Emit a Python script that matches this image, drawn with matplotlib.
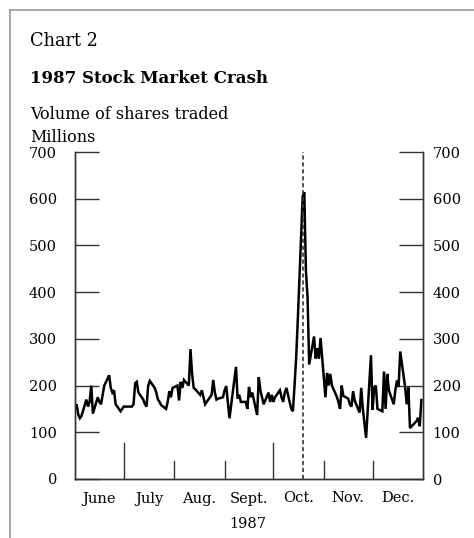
import pandas as pd
import matplotlib
matplotlib.use('Agg')
import matplotlib.pyplot as plt
from matplotlib.lines import Line2D

plt.rcParams['font.family'] = 'DejaVu Serif'
plt.rcParams['lines.scale_dashes'] = False

# daily NYSE volume, millions of shares (one value per trading day)
vol_jun = [150, 160, 138, 130, 135, 170, 155, 165, 200, 140, 175, 165, 160, 180, 200, 222, 195, 185, 190, 160, 145, 150]
vol_jul = [155, 155, 155, 160, 205, 208, 185, 170, 160, 155, 200, 210, 195, 185, 170, 165, 158, 150, 165, 188, 175, 195]
vol_aug = [200, 168, 208, 195, 212, 200, 278, 225, 195, 192, 180, 190, 175, 160, 165, 180, 212, 185, 170, 172, 175]
vol_sep = [190, 199, 165, 130, 240, 172, 180, 165, 165, 150, 197, 175, 185, 137, 218, 190, 175, 160, 185, 165, 180]
vol_oct = [165, 175, 190, 175, 165, 185, 195, 150, 145, 200, 260, 340, 604, 614, 445, 390, 245, 305, 258, 280, 258, 302]
vol_nov = [175, 227, 200, 225, 200, 176, 165, 150, 200, 178, 172, 160, 155, 188, 168, 142, 195, 150, 88, 265]
vol_dec = [148, 196, 200, 150, 145, 230, 150, 225, 190, 160, 190, 211, 197, 273, 197, 160, 196, 109, 124, 131, 113, 169]

holidays = ['1987-07-03', '1987-09-07', '1987-11-26', '1987-12-25']
month_labels = ['June', 'July', 'Aug.', 'Sept.', 'Oct.', 'Nov.', 'Dec.']
month_starts = ['1987-06-01', '1987-07-01', '1987-08-01', '1987-09-01', '1987-10-01',
                '1987-11-01', '1987-12-01', '1988-01-01']
quarter_starts = ['1987-07-01', '1987-10-01']
crash_day = '1987-10-19'
yticks = [0, 100, 200, 300, 400, 500, 600, 700]

days = pd.bdate_range('1987-06-01', '1987-12-31')
days = days[~days.isin(pd.to_datetime(holidays))]
vol = vol_jun + vol_jul + vol_aug + vol_sep + vol_oct + vol_nov + vol_dec

starts = pd.to_datetime(month_starts)
mids = starts[:-1] + (starts[1:] - starts[:-1]) / 2

fig = plt.figure(figsize=(4.74, 5.38), dpi=100)
ax = fig.add_axes([75/474, 1-479/538, 348/474, 327/538])

ax.plot(days, vol, color='k', linewidth=1.8, solid_joinstyle='miter')
ax.axvline(pd.Timestamp(crash_day), color='#333333', linewidth=1.2, linestyle=(0, (3, 2)))

# month separators, taller at quarter ends
for d in starts[1:-1]:
    h = 0.11 if d in pd.to_datetime(quarter_starts) else 0.055
    ax.axvline(d, ymin=0, ymax=h, color='#333333', linewidth=1.0)

ax.set_xlim(starts[0], starts[-1])
ax.set_ylim(0, 700)
ax.set_xticks(mids)
ax.set_xticklabels(month_labels, fontsize=10.5)
ax.tick_params(axis='x', length=0, pad=9)

ax.set_yticks(yticks)
ax.tick_params(axis='y', direction='in', length=17, width=1.0, color='#333333',
               labelsize=10.5, pad=13)

ax2 = ax.twinx()
ax2.set_ylim(0, 700)
ax2.set_yticks(yticks)
ax2.tick_params(axis='y', direction='in', length=17, width=1.0, color='#333333',
                labelsize=10.5, pad=7)

for a in (ax, ax2):
    a.spines['top'].set_visible(False)
    for s in ('left', 'right', 'bottom'):
        a.spines[s].set_color('#333333')
        a.spines[s].set_linewidth(1.0)

# titles
fig.text(30/474, 1-46/538, 'Chart 2', fontsize=12.8, va='baseline')
fig.text(30/474, 1-83/538, '1987 Stock Market Crash', fontsize=12.0, fontweight='bold', va='baseline')
fig.text(30/474, 1-119/538, 'Volume of shares traded', fontsize=11.5, va='baseline')
fig.text(30/474, 1-142/538, 'Millions', fontsize=11.5, va='baseline')
fig.text(248/474, 1-528/538, '1987', fontsize=10.5, va='baseline', ha='center')

# outer frame
fig.add_artist(Line2D([10/474, 10/474], [0, 1-10/538], color='#999999', linewidth=1.2))
fig.add_artist(Line2D([10/474, 1], [1-10/538, 1-10/538], color='#999999', linewidth=1.2))

plt.savefig('out.png', dpi=100)
